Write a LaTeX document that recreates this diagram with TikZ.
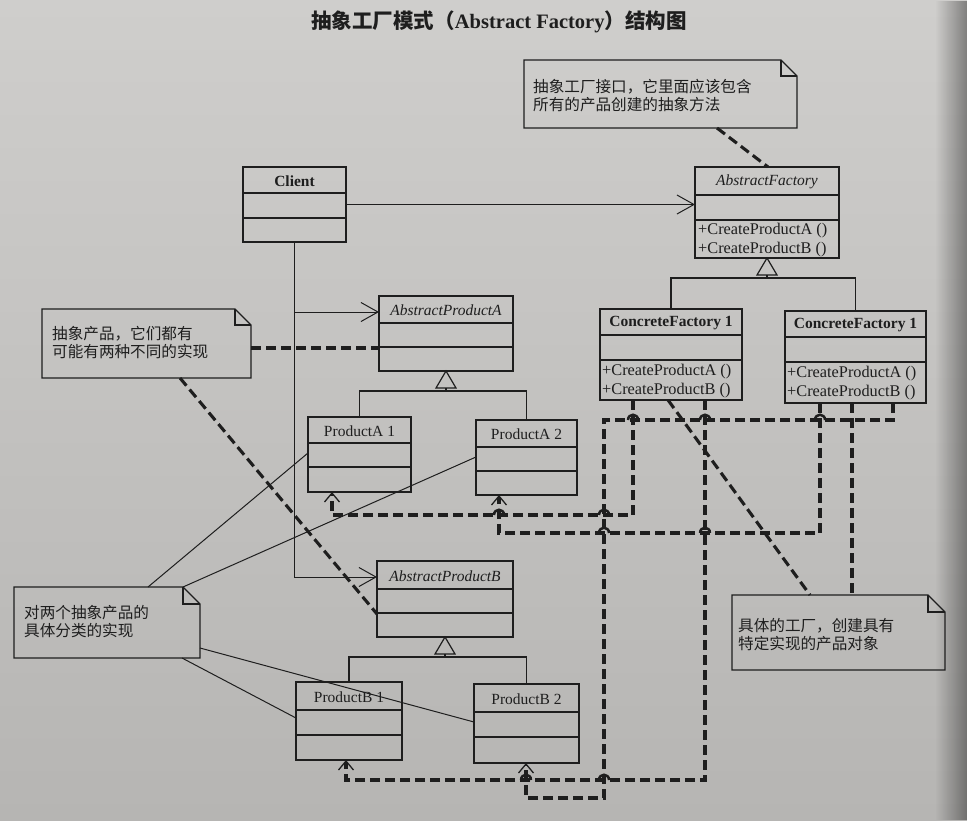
\documentclass[tikz,border=0pt]{standalone}
\usepackage{fontspec}
\setmainfont{Liberation Serif}
\newfontfamily\cjk{Noto Sans CJK SC}
\usetikzlibrary{arrows.meta,fadings}
\definecolor{ink}{RGB}{30,30,30}
\definecolor{bgtop}{RGB}{207,206,204}
\definecolor{bgbot}{RGB}{182,181,179}
\tikzset{
  boxline/.style={draw=ink, line width=1.2pt},
  clsbox/.style={boxline, rectangle, inner sep=0pt, outer sep=0pt},
  clsname/.style={inner sep=0pt, text=ink, font=\fontsize{15.5}{18}\selectfont},
  meth/.style={inner sep=0pt, anchor=base west, text=ink, font=\fontsize{16.3}{18}\selectfont},
  notetext/.style={inner sep=0pt, anchor=north west, align=left, text=ink, font=\cjk\fontsize{15.6}{18.5}\selectfont},
  link/.style={draw=ink, line width=1pt},
  dep/.style={draw=ink, line width=3.1pt, dash pattern=on 10pt off 5pt},
  hop/.style={draw=ink, line width=2.5pt},
  assoc/.style={link, -{Straight Barb[length=17pt, width=19pt, line width=1pt]}},
  deparrow/.style={dep, -{Straight Barb[length=9pt, width=15pt, line width=1.3pt]}},
}
% class box: name, x1, y1, x2, y2, divider1, divider2, label
\newcommand\umlcls[8]{%
  \node[clsbox, minimum width={#4pt-#2pt}, minimum height={#5pt-#3pt}] (#1) at ({(#2+#4)/2},{(#3+#5)/2}) {};
  \draw[boxline] (#2,#6) -- (#4,#6);
  \draw[boxline] (#2,#7) -- (#4,#7);
  \node[clsname] (#1-name) at ({(#2+#4)/2},{(#3+#6)/2+1}) {#8};
}
% note: name, x1, y1, x2, y2, fold
\newcommand\umlnote[6]{%
  \node[inner sep=0pt, outer sep=0pt, minimum width={#4pt-#2pt}, minimum height={#5pt-#3pt}] (#1) at ({(#2+#4)/2},{(#3+#5)/2}) {};
  \draw[boxline, line join=miter] (#2,#3) -- ({#4-#6},#3) -- (#4,{#3+#6}) -- (#4,#5) -- (#2,#5) -- cycle;
  \draw[boxline] ({#4-#6},#3) -- ({#4-#6},{#3+#6}) -- (#4,{#3+#6});
}
% generalization: parent, child1, child2
\newcommand\umlgen[3]{%
  \draw[boxline, line join=miter] (#1.south) -- ++(-10,17) -- ++(20,0) -- cycle;
  \coordinate (#1-bar) at ([yshift=-20pt]#1.south);
  \draw[boxline] ([yshift=-17pt]#1.south) -- (#1-bar);
  \draw[boxline] (#2.north) -- (#2.north |- #1-bar) -- (#3.north |- #1-bar) -- (#3.north);
}
% line hop on a horizontal line over a vertical one
\newcommand\hopat[2]{%
  \draw[hop] ({#1-5},#2) .. controls ({#1-5},{#2-7}) and ({#1+5},{#2-7}) .. ({#1+5},#2);
}
\begin{document}
\begin{tikzpicture}[x=1pt, y=-1pt]
\useasboundingbox (0,0) rectangle (967,820);
\shade[top color=bgtop, bottom color=bgbot] (0,0) rectangle (967,820);
\fill[black, opacity=0.38, path fading=west] (935,0) rectangle (967,820);

% title
\node[inner sep=0pt, text=ink, font=\cjk\bfseries\fontsize{20.5}{24}\selectfont] (title) at (499,22)
  {抽象工厂模式（{\rmfamily\bfseries Abstract Factory}）结构图};

% classes
\umlcls{client}{243}{167}{346}{242}{193}{218}{\bfseries Client}
\umlcls{af}{695}{167}{839}{258}{195}{220}{\itshape AbstractFactory}
\node[meth] (af-m1) at (698,234) {+CreateProductA ()};
\node[meth] (af-m2) at (698,253) {+CreateProductB ()};
\umlcls{cf1}{600}{309}{742}{400}{335}{360}{\bfseries ConcreteFactory 1}
\node[meth] (cf1-m1) at (602,375) {+CreateProductA ()};
\node[meth] (cf1-m2) at (602,394) {+CreateProductB ()};
\umlcls{cf2}{785}{311}{926}{403}{337}{362}{\bfseries ConcreteFactory 1}
\node[meth] (cf2-m1) at (787,377) {+CreateProductA ()};
\node[meth] (cf2-m2) at (787,396) {+CreateProductB ()};
\umlcls{apa}{379}{296}{513}{371}{323}{347}{\itshape AbstractProductA}
\umlcls{pa1}{308}{417}{411}{492}{443}{467}{ProductA 1}
\umlcls{pa2}{476}{420}{577}{495}{447}{471}{ProductA 2}
\umlcls{apb}{377}{561}{513}{637}{589}{613}{\itshape AbstractProductB}
\umlcls{pb1}{296}{682}{402}{760}{710}{735}{ProductB 1}
\umlcls{pb2}{474}{684}{579}{763}{712}{737}{ProductB 2}

% notes
\umlnote{n1}{524}{60}{797}{128}{16}
\node[notetext] (n1-t) at (533,79) {抽象工厂接口，它里面应该包含\\所有的产品创建的抽象方法};
\umlnote{n2}{42}{309}{251}{378}{16}
\node[notetext] (n2-t) at (52,326) {抽象产品，它们都有\\可能有两种不同的实现};
\umlnote{n3}{14}{587}{200}{658}{17}
\node[notetext] (n3-t) at (24,605) {对两个抽象产品的\\具体分类的实现};
\umlnote{n4}{732}{595}{945}{670}{17}
\node[notetext] (n4-t) at (738,618) {具体的工厂，创建具有\\特定实现的产品对象};

% generalizations
\umlgen{af}{cf1}{cf2}
\umlgen{apa}{pa1}{pa2}
\umlgen{apb}{pb1}{pb2}

% associations from Client
\draw[assoc] (client.east) -- (client.east -| af.west);
\draw[assoc] (client.south) -- (client.south |- 0,577) -- (apb.west |- 0,577);
\draw[assoc] (client.south |- 0,312) -- (apa.west |- 0,312);

% note links (solid)
\draw[link] (148,0 |- n3.north) -- (pa1.west |- 0,453);
\draw[link] (183,0 |- n3.north) -- (pa2.west |- 0,457);
\draw[link] (n3.east |- 0,648) -- (pb2.west |- 0,722);
\draw[link] (182,0 |- n3.south) -- (pb1.west |- 0,718);

% note links (dashed)
\draw[dep] (717,0 |- n1.south) -- (768,0 |- af.north);
\draw[dep] (n2.east |- 0,348) -- (apa.west |- 0,348);
\draw[dep] (180,0 |- n2.south) -- (apb.west |- 0,614);
\draw[dep] (668,0 |- cf1.south) -- (810,0 |- n4.north);
\draw[dep] (852,0 |- cf2.south) -- (852,0 |- n4.north);

% dependencies: concrete factories create products
\draw[deparrow] (633,0 |- cf1.south) -- (633,515) -- (332,515) -- (332,0 |- pa1.south);
\draw[deparrow] (820,0 |- cf2.south) -- (820,533) -- (499,533) -- (499,0 |- pa2.south);
\draw[deparrow] (893,0 |- cf2.south) -- (893,420) -- (604,420) -- (604,798) -- (526,798) -- (526,0 |- pb2.south);
\draw[deparrow] (705,0 |- cf1.south) -- (705,780) -- (346,780) -- (346,0 |- pb1.south);

% line hops
\hopat{633}{420}
\hopat{705}{420}
\hopat{820}{420}
\hopat{604}{515}
\hopat{499}{515}
\hopat{604}{533}
\hopat{705}{533}
\hopat{526}{780}
\hopat{604}{780}
\end{tikzpicture}
\end{document}
